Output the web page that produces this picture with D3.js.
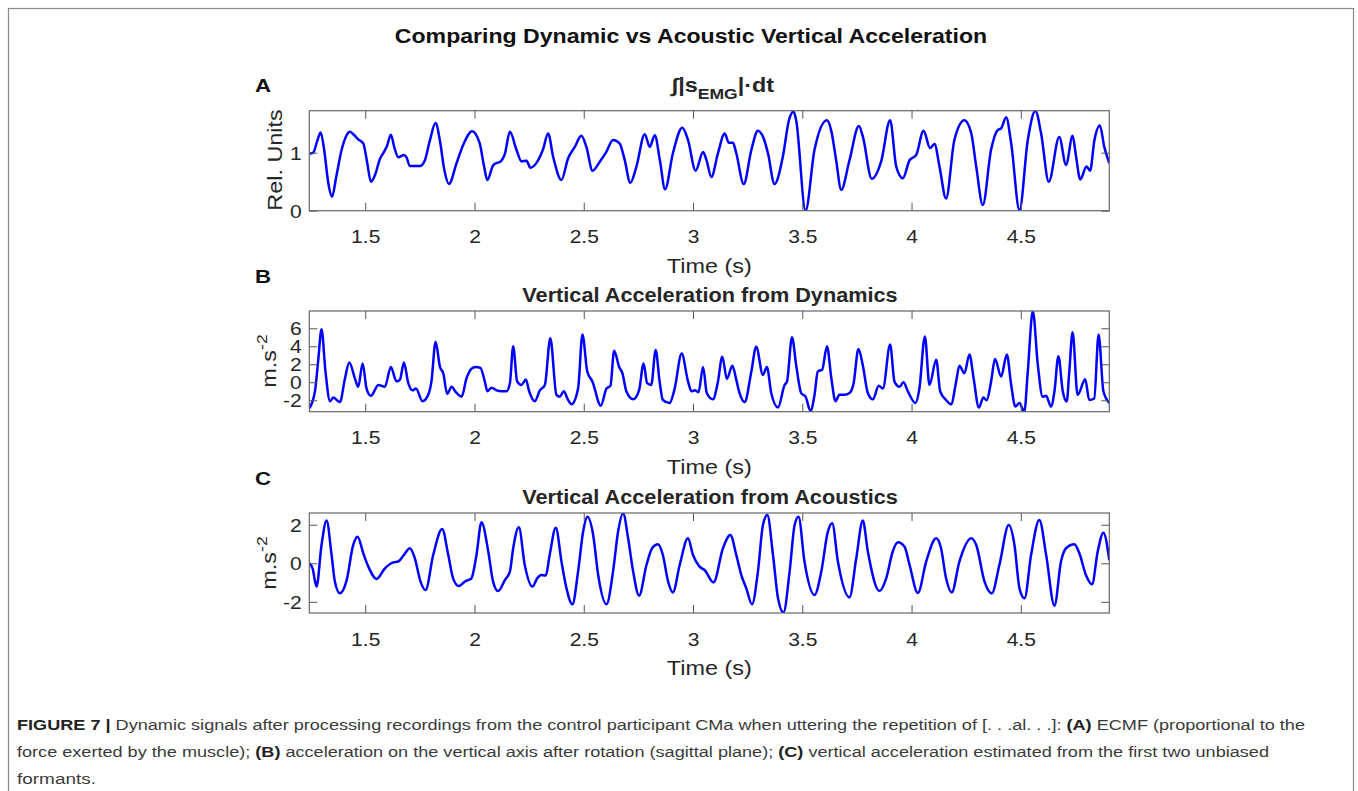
<!DOCTYPE html>
<html lang="en">
<head>
<meta charset="utf-8">
<style>
  body { margin: 0; background: #fff; }
  svg { display: block; }
  .ax text { font-family: "Liberation Sans", Arial, Helvetica, sans-serif; fill: #262626; }
</style>
</head>
<body>
<svg id="fig" width="1358" height="791"></svg>
<script src="https://cdnjs.cloudflare.com/ajax/libs/d3/7.8.5/d3.min.js"></script>
<script>
// ---- data ----
var xTicks = [1.5, 2, 2.5, 3, 3.5, 4, 4.5];
var xDomain = [1.244, 4.905];

// (A) integrated |EMG|
var emgT = [1.244,1.262,1.280,1.296,1.312,1.330,1.348,1.368,1.392,1.412,1.430,1.450,1.468,1.491,1.508,1.526,1.545,1.568,1.582,1.600,1.617,1.634,1.651,1.677,1.689,1.704,1.750,1.773,1.795,1.822,1.842,1.862,1.883,1.918,1.950,1.989,2.024,2.042,2.059,2.085,2.100,2.116,2.139,2.162,2.192,2.215,2.238,2.256,2.283,2.313,2.337,2.360,2.398,2.428,2.459,2.489,2.512,2.540,2.574,2.604,2.634,2.664,2.687,2.713,2.741,2.779,2.802,2.825,2.848,2.872,2.908,2.951,2.977,3.012,3.046,3.061,3.084,3.114,3.145,3.164,3.183,3.198,3.232,3.267,3.297,3.323,3.343,3.373,3.411,3.439,3.460,3.472,3.515,3.556,3.613,3.632,3.655,3.678,3.716,3.759,3.777,3.818,3.861,3.902,3.930,3.960,3.991,4.021,4.055,4.085,4.105,4.128,4.158,4.196,4.242,4.273,4.296,4.326,4.364,4.394,4.410,4.433,4.456,4.494,4.532,4.567,4.593,4.628,4.676,4.707,4.737,4.753,4.772,4.801,4.817,4.837,4.862,4.882,4.905];
var emgV = [0.98,1.00,1.20,1.35,1.05,0.50,0.24,0.60,1.05,1.28,1.36,1.30,1.23,1.16,0.85,0.50,0.62,0.90,0.99,1.12,1.31,1.08,0.92,0.96,0.92,0.77,0.77,0.87,1.20,1.51,1.20,0.70,0.46,0.82,1.15,1.37,1.16,0.80,0.53,0.78,0.82,0.84,0.98,1.36,1.05,0.85,0.86,0.74,0.82,1.05,1.33,0.93,0.53,0.90,1.10,1.29,1.10,0.69,0.85,1.02,1.22,1.16,0.88,0.48,0.76,1.32,1.10,1.30,0.88,0.37,0.99,1.43,1.22,0.69,1.01,0.88,0.58,0.99,1.33,1.17,1.17,0.99,0.46,1.05,1.38,1.25,0.99,0.46,0.93,1.56,1.71,1.56,0.00,1.05,1.56,1.39,0.87,0.36,0.87,1.46,1.28,0.55,0.85,1.56,0.76,0.56,0.87,0.96,1.38,1.08,1.15,0.76,0.21,1.22,1.56,1.34,0.76,0.10,1.05,1.39,1.42,1.61,1.16,0.01,1.22,1.72,1.33,0.50,1.27,0.79,1.29,0.93,0.54,0.76,0.69,1.22,1.47,1.10,0.82];
var emgYTicks = [0, 1];

// (B) vertical acceleration from dynamics
var dynT = [1.244,1.270,1.285,1.300,1.318,1.339,1.354,1.384,1.407,1.427,1.453,1.468,1.488,1.506,1.526,1.560,1.590,1.617,1.643,1.659,1.677,1.697,1.717,1.732,1.762,1.788,1.803,1.822,1.842,1.857,1.875,1.895,1.915,1.941,1.963,1.986,2.006,2.027,2.047,2.059,2.078,2.101,2.124,2.146,2.162,2.177,2.195,2.215,2.235,2.250,2.276,2.299,2.322,2.347,2.375,2.390,2.409,2.425,2.444,2.474,2.494,2.516,2.540,2.578,2.604,2.622,2.639,2.662,2.677,2.695,2.726,2.753,2.774,2.790,2.809,2.829,2.847,2.862,2.893,2.916,2.948,2.977,2.993,3.008,3.025,3.046,3.063,3.091,3.114,3.134,3.155,3.180,3.198,3.213,3.236,3.267,3.289,3.320,3.338,3.358,3.389,3.419,3.430,3.453,3.472,3.495,3.515,3.538,3.556,3.571,3.591,3.613,3.633,3.652,3.670,3.693,3.716,3.735,3.757,3.777,3.800,3.823,3.850,3.869,3.902,3.922,3.945,3.963,3.983,4.018,4.036,4.061,4.082,4.113,4.131,4.158,4.181,4.204,4.219,4.242,4.265,4.284,4.308,4.329,4.344,4.364,4.382,4.410,4.436,4.456,4.475,4.494,4.516,4.532,4.555,4.578,4.600,4.616,4.638,4.654,4.672,4.692,4.710,4.722,4.737,4.760,4.795,4.813,4.836,4.856,4.878,4.905];
var dynV = [-2.9,-1.0,2.5,5.9,1.2,-2.1,-1.7,-2.2,0.4,2.2,0.4,-0.5,2.1,-0.7,-1.5,-0.3,-0.5,1.7,0.1,0.3,2.2,-0.1,-0.9,-0.7,-2.1,-1.4,0.1,4.5,1.7,1.0,-1.3,-0.5,-1.1,-1.6,0.4,1.5,1.7,1.6,0.1,-1.0,-0.6,-0.9,-1.0,-1.0,-0.1,4.0,0.1,-0.3,0.3,-1.0,-2.1,-0.9,-0.3,4.9,-1.4,-1.6,-1.0,-1.8,-2.45,-0.7,5.3,1.2,0.07,-2.6,-0.7,-0.4,3.5,1.7,1.0,-1.0,-1.9,-0.9,2.1,-0.1,-0.3,3.6,0.1,-1.97,-2.3,-0.7,3.2,0.1,-1.0,-0.9,-1.1,1.7,-1.2,-1.9,0.07,2.85,0.37,1.85,0.26,-1.2,-2.2,1.2,3.96,0.81,1.7,-1.2,-2.8,-0.3,0.07,5.0,1.9,-1.2,-1.6,-3.2,-1.4,1.2,1.4,4.0,0.44,-2.1,-1.4,-1.4,-1.2,-0.1,3.7,1.9,-1.2,-1.9,-0.4,-0.7,4.2,0.07,-0.5,0.0,-1.0,-2.3,-0.7,5.1,-0.3,2.5,-1.0,-1.97,-2.45,0.07,1.85,1.0,3.1,0.44,-2.8,-1.7,-2.0,0.07,2.6,0.63,3.1,-0.3,-2.7,-2.3,-3.3,1.2,7.9,1.9,-1.6,-1.5,-2.7,-1.0,2.9,-1.0,-2.15,1.2,5.55,-1.4,0.33,-1.97,-1.8,5.3,-1.0,-2.3];
var dynYTicks = [-2, 0, 2, 4, 6];

// (C) vertical acceleration from acoustics
var acoT = [1.244,1.259,1.277,1.300,1.323,1.346,1.361,1.384,1.415,1.445,1.465,1.491,1.514,1.552,1.590,1.628,1.651,1.677,1.704,1.727,1.753,1.776,1.811,1.852,1.880,1.902,1.928,1.956,1.971,1.986,2.009,2.032,2.063,2.085,2.108,2.139,2.162,2.177,2.203,2.230,2.265,2.287,2.306,2.326,2.344,2.372,2.398,2.421,2.448,2.474,2.497,2.517,2.543,2.566,2.604,2.634,2.657,2.680,2.703,2.726,2.753,2.787,2.814,2.840,2.862,2.886,2.908,2.939,2.977,3.000,3.030,3.053,3.094,3.137,3.171,3.198,3.221,3.244,3.270,3.297,3.320,3.340,3.366,3.389,3.414,3.442,3.465,3.483,3.510,3.556,3.587,3.617,3.637,3.663,3.716,3.747,3.777,3.800,3.853,3.884,3.914,3.937,3.968,3.991,4.029,4.067,4.113,4.135,4.158,4.184,4.219,4.273,4.296,4.334,4.367,4.402,4.445,4.471,4.494,4.517,4.547,4.585,4.616,4.654,4.684,4.707,4.745,4.768,4.798,4.826,4.852,4.878,4.905];
var acoV = [0.0,-0.26,-1.21,0.95,2.22,0.43,-0.95,-1.56,-0.87,0.95,1.38,0.52,-0.17,-0.81,-0.26,0.05,0.09,0.43,0.78,0.26,-0.95,-1.39,0.43,1.78,0.43,-0.78,-1.18,-0.95,-0.87,-0.78,0.43,2.13,0.61,-0.95,-1.44,-0.87,-0.43,0.78,1.87,-0.09,-1.21,-0.78,-0.61,-0.64,0.43,1.85,0.09,-1.30,-2.13,-0.43,1.64,2.41,1.47,-0.61,-2.13,-0.43,1.64,2.60,1.30,-0.43,-1.68,-0.09,0.81,0.99,0.43,-0.95,-1.51,-0.09,1.30,0.43,-0.17,-0.35,-0.99,0.78,1.47,0.43,-0.61,-1.30,-2.13,-0.43,1.99,2.51,0.43,-1.82,-2.56,-0.43,1.99,2.42,0.09,-1.65,-0.43,1.64,2.08,0.09,-1.77,0.26,2.22,0.61,-1.44,-0.78,0.61,1.09,0.86,-0.09,-1.54,0.09,1.30,0.78,-0.78,-1.51,0.09,1.30,0.95,-0.95,-1.56,-0.09,1.99,0.95,-1.30,-1.82,0.43,2.25,0.43,-2.20,0.09,0.78,0.99,0.52,-0.61,-1.09,0.61,1.59,0.17];
var acoYTicks = [-2, 0, 2];

// ---- layout ----
var svg = d3.select("#fig");
var font = '"Liberation Sans", Arial, Helvetica, sans-serif';
var plotL = 309.3, plotR = 1109.3;
var sx = 1.17;   // figure text in the original is drawn a bit wide
var sxTitle = 1.085;

svg.append("rect").attr("x", 0).attr("y", 0).attr("width", 1358).attr("height", 791).attr("fill", "#fff");
svg.append("rect")
    .attr("x", 8.5).attr("y", 8.5).attr("width", 1345).attr("height", 800)
    .attr("fill", "none").attr("stroke", "#8a8a8a").attr("stroke-width", 1.2);

// place a text at (px,py) with optional rotation, stretched along its baseline
function placed(parent, px, py, rot, s) {
    return parent.append("text")
        .attr("transform", "translate(" + px + "," + py + ")" + (rot ? " rotate(" + rot + ")" : "") + " scale(" + (s || sx) + ",1)");
}

placed(svg, 691, 43, 0, 1.10)
    .attr("text-anchor", "middle")
    .style("font-family", font).style("font-weight", "bold").style("font-size", "21px")
    .attr("fill", "#111")
    .text("Comparing Dynamic vs Acoustic Vertical Acceleration");

var x = d3.scaleLinear().domain(xDomain).range([plotL, plotR]);

function panel(id, t, v, top, bottom, yDomain, yTicks) {
    var g = svg.append("g").attr("class", "ax");
    var y = d3.scaleLinear().domain(yDomain).range([bottom, top]);

    svg.append("clipPath").attr("id", "clip" + id)
      .append("rect").attr("x", plotL).attr("y", top)
      .attr("width", plotR - plotL).attr("height", bottom - top);

    var pts = t.map(function(d, i) { return [d, v[i]]; });
    var line = d3.line()
        .x(function(d) { return x(d[0]); })
        .y(function(d) { return y(d[1]); })
        .curve(d3.curveMonotoneX);

    g.append("path").datum(pts)
        .attr("clip-path", "url(#clip" + id + ")")
        .attr("d", line)
        .attr("fill", "none").attr("stroke", "#0000ff")
        .attr("stroke-width", 2.5).attr("stroke-linejoin", "round");

    // inward ticks on all four sides, like a boxed matlab axis
    var bx = g.append("g").attr("transform", "translate(0," + bottom + ")")
        .call(d3.axisBottom(x).tickValues(xTicks).tickSize(-8).tickPadding(20)
              .tickFormat(function(d) { return String(d); }));
    var tx = g.append("g").attr("transform", "translate(0," + top + ")")
        .call(d3.axisTop(x).tickValues(xTicks).tickSize(-8).tickFormat(""));
    var ly = g.append("g").attr("transform", "translate(" + plotL + ",0)")
        .call(d3.axisLeft(y).tickValues(yTicks).tickSize(-8).tickPadding(15)
              .tickFormat(function(d) { return String(d); }));
    var ry = g.append("g").attr("transform", "translate(" + plotR + ",0)")
        .call(d3.axisRight(y).tickValues(yTicks).tickSize(-8).tickFormat(""));

    [bx, tx, ly, ry].forEach(function(a) {
        a.select(".domain").remove();
        a.selectAll("line").attr("stroke", "#555");
        a.selectAll("text").style("font-size", "18px").style("font-family", font)
            .attr("fill", "#262626").attr("transform", "scale(" + sx + ",1)");
    });
    ly.selectAll("text").attr("x", -6.5).attr("dy", "0.36em");

    g.append("rect").attr("x", plotL).attr("y", top)
        .attr("width", plotR - plotL).attr("height", bottom - top)
        .attr("fill", "none").attr("stroke", "#666").attr("stroke-width", 1.2);

    placed(g, (plotL + plotR) / 2, bottom + 62)
        .attr("text-anchor", "middle").style("font-size", "20px")
        .text("Time (s)");
    return g;
}

var gA = panel("A", emgT, emgV, 110.7, 210.7, [0, 1.724], emgYTicks);
var gB = panel("B", dynT, dynV, 311, 411.7, [-3.27, 7.92], dynYTicks);
var gC = panel("C", acoT, acoV, 513, 613, [-2.58, 2.61], acoYTicks);

// panel letters
[["A", 92], ["B", 283], ["C", 485]].forEach(function(p) {
    placed(svg, 255, p[1])
        .style("font-family", font).style("font-weight", "bold").style("font-size", "19px")
        .attr("fill", "#111").text(p[0]);
});

// panel titles
var tA = placed(gA, 723, 92)
    .attr("text-anchor", "middle").style("font-weight", "bold").style("font-size", "20px");
tA.append("tspan").text("\u222B|s");
tA.append("tspan").attr("dy", 7).style("font-size", "15px").text("EMG");
tA.append("tspan").attr("dy", -7).text("|\u00B7dt");

placed(gB, 710, 302, 0, sxTitle).attr("text-anchor", "middle")
    .style("font-weight", "bold").style("font-size", "20px")
    .text("Vertical Acceleration from Dynamics");
placed(gC, 710, 504, 0, sxTitle).attr("text-anchor", "middle")
    .style("font-weight", "bold").style("font-size", "20px")
    .text("Vertical Acceleration from Acoustics");

// y labels
placed(gA, 282, 160, -90)
    .attr("text-anchor", "middle").style("font-size", "20px").text("Rel. Units");

function unitLabel(g, cy) {
    var t = placed(g, 276, cy, -90)
        .attr("text-anchor", "middle").style("font-size", "20px");
    t.append("tspan").text("m.s");
    t.append("tspan").attr("dy", -9).style("font-size", "15px").text("-2");
}
unitLabel(gB, 361);
unitLabel(gC, 563);

// caption
var cap = svg.append("g").style("font-family", font).style("font-size", "15.5px").attr("fill", "#3a3a3a");

var c1 = cap.append("text").attr("x", 17).attr("y", 730)
    .attr("textLength", 1288).attr("lengthAdjust", "spacingAndGlyphs");
c1.append("tspan").style("font-weight", "bold").attr("fill", "#222").text("FIGURE 7 | ");
c1.append("tspan").text("Dynamic signals after processing recordings from the control participant CMa when uttering the repetition of [. . .al. . .]: ");
c1.append("tspan").style("font-weight", "bold").attr("fill", "#222").text("(A)");
c1.append("tspan").text(" ECMF (proportional to the");

var c2 = cap.append("text").attr("x", 17).attr("y", 757)
    .attr("textLength", 1252).attr("lengthAdjust", "spacingAndGlyphs");
c2.append("tspan").text("force exerted by the muscle); ");
c2.append("tspan").style("font-weight", "bold").attr("fill", "#222").text("(B)");
c2.append("tspan").text(" acceleration on the vertical axis after rotation (sagittal plane); ");
c2.append("tspan").style("font-weight", "bold").attr("fill", "#222").text("(C)");
c2.append("tspan").text(" vertical acceleration estimated from the first two unbiased");

cap.append("text").attr("x", 17).attr("y", 784)
    .attr("textLength", 79).attr("lengthAdjust", "spacingAndGlyphs")
    .text("formants.");
</script>
</body>
</html>
